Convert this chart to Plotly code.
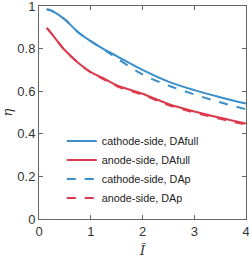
import plotly.graph_objects as go

x_vals = [0.15, 0.25, 0.5, 0.75, 1.0, 1.25, 1.5, 2.0, 2.5, 3.0, 3.5, 4.0]
cathode_full = [0.985, 0.977, 0.937, 0.878, 0.835, 0.798, 0.765, 0.700, 0.645, 0.605, 0.572, 0.542]
anode_full = [0.897, 0.868, 0.792, 0.735, 0.690, 0.660, 0.628, 0.588, 0.540, 0.505, 0.475, 0.448]
cathode_dap = [0.985, 0.977, 0.937, 0.878, 0.835, 0.796, 0.755, 0.679, 0.627, 0.585, 0.548, 0.515]
anode_dap = [0.897, 0.868, 0.792, 0.735, 0.688, 0.656, 0.624, 0.583, 0.535, 0.500, 0.470, 0.443]

names = ["cathode-side, DAfull", "anode-side, DAfull", "cathode-side, DAp", "anode-side, DAp"]
BLUE = "#3a8fca"
RED = "#db3a4c"

fig = go.Figure()
series = [(cathode_full, BLUE, "solid"), (anode_full, RED, "solid"),
          (cathode_dap, BLUE, "dash"), (anode_dap, RED, "dash")]
for (ys, col, dash), nm in zip(series, names):
    fig.add_trace(go.Scatter(x=x_vals, y=ys, mode="lines", name=nm,
                             line=dict(color=col, width=2, dash=dash, shape="spline")))

axis_common = dict(showline=True, linecolor="#666666", linewidth=1, mirror="ticks",
                   ticks="inside", ticklen=4, tickcolor="#666666", showgrid=False,
                   zeroline=False, automargin=False, ticklabeloverflow="allow",
                   tickfont=dict(family="Liberation Sans, Arial", size=13, color="#333333"))

fig.update_layout(
    width=249, height=258,
    margin=dict(l=39, r=3, t=6, b=39),
    paper_bgcolor="white", plot_bgcolor="white",
    xaxis=dict(range=[0, 4], tickvals=[0, 1, 2, 3, 4], ticktext=["0", "1", "2", "3", "4"],
               **axis_common),
    yaxis=dict(range=[0, 1], tickvals=[0, 0.2, 0.4, 0.6, 0.8, 1], ticktext=["0", "0.2", "0.4", "0.6", "0.8", "1"],
               **axis_common),
    legend=dict(x=0.11, y=0.03, xanchor="left", yanchor="bottom", bgcolor="rgba(0,0,0,0)",
                font=dict(family="Liberation Sans, Arial", size=10.8, color="#222222"),
                tracegroupgap=0),
    showlegend=True,
    annotations=[
        dict(text="<i>Ĩ</i>", xref="paper", yref="paper", x=0.5, y=-0.105, yanchor="top",
             showarrow=False, font=dict(family="DejaVu Serif", size=13, color="#333333")),
        dict(text="<i>η</i>", xref="paper", yref="paper", x=-0.15, y=0.5, textangle=-90,
             xanchor="center", showarrow=False, font=dict(family="DejaVu Serif", size=13, color="#333333")),
    ],
)

fig.write_html("out.html", config={"displayModeBar": False},
               post_script="document.body.style.margin='0';document.body.style.overflow='hidden';")
